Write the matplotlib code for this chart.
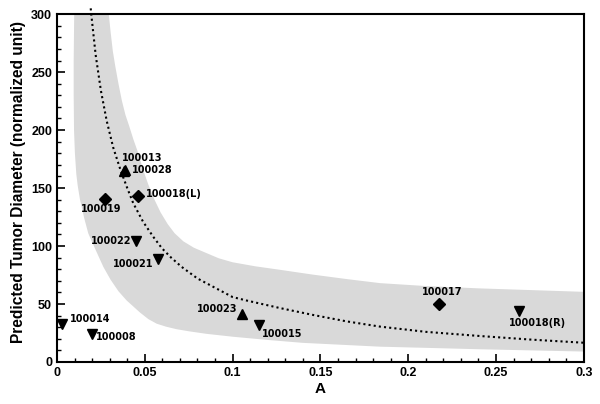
import numpy as np
import matplotlib
matplotlib.use("Agg")
import matplotlib.pyplot as plt

# shaded band edges
band_upper_a = [0.0295, 0.0305, 0.0318, 0.0332, 0.0350, 0.037, 0.039, 0.041, 0.0435, 0.0463,
                0.049, 0.052, 0.0555, 0.059, 0.063, 0.067, 0.072, 0.078, 0.085, 0.092,
                0.100, 0.113, 0.127, 0.145, 0.165, 0.184, 0.21, 0.24, 0.27, 0.30]
band_upper_v = [300, 285, 268, 255, 240, 225, 213, 204, 192, 180,
                166, 153, 140, 129, 119, 111, 104, 98.5, 94, 89.5,
                86, 82.5, 79.5, 75.5, 71.5, 68, 65.5, 63.5, 62, 60.5]
band_lower_a = [0.0098, 0.0095, 0.0095, 0.0097, 0.0102, 0.0110, 0.0118, 0.0131, 0.0155, 0.0178,
                0.0195, 0.0225, 0.0264, 0.0305, 0.0350, 0.0397, 0.0430, 0.0470, 0.052, 0.0568,
                0.062, 0.068, 0.075, 0.085, 0.100, 0.12, 0.14, 0.16, 0.184, 0.21, 0.24, 0.27, 0.30]
band_lower_v = [300, 260, 230, 200, 180, 162, 152, 140, 124, 111,
                105, 95, 82, 71, 61, 53, 48.5, 43, 37, 33,
                30.5, 28.3, 26.5, 24.3, 21.8, 19, 16.5, 15, 13.2, 12.2, 11, 10, 9]

# dotted prediction curve
curve_a = [0.0192, 0.0195, 0.022, 0.025, 0.0283, 0.032, 0.0363, 0.040, 0.0434, 0.049,
           0.0548, 0.0598, 0.065, 0.071, 0.080, 0.090, 0.100, 0.108, 0.127, 0.146,
           0.165, 0.184, 0.21, 0.2408, 0.27, 0.30]
curve_v = [305, 300, 265, 234, 208, 185, 165, 150, 137, 121,
           108, 98, 90, 82, 72, 64, 56, 53, 46.5, 40.5,
           35, 30.5, 26, 22.4, 19.3, 16.6]

# patients
names = ["100013", "100028", "100018(L)", "100019", "100022", "100021",
         "100014", "100008", "100023", "100015", "100017", "100018(R)"]
pa = [0.0381, 0.0385, 0.0463, 0.0273, 0.045, 0.0577, 0.003, 0.0197, 0.1055, 0.115, 0.2176, 0.263]
pv = [165, 165.5, 143, 140.5, 104.6, 88.5, 33, 24, 41, 32, 50, 44.2]
markers = ["^", "^", "D", "D", "v", "v", "v", "v", "^", "v", "D", "v"]
# label offsets in pixels and alignment
offsets = [(-2, 13, "left"), (7, 0, "left"), (8, 2, "left"), (-4, -10, "center"),
           (-5, 0, "right"), (-5, -5, "right"), (8, 5, "left"), (4, -3, "left"),
           (-5, 5, "right"), (3, -9, "left"), (3, 12, "center"), (19, -12, "center")]

fig = plt.figure(figsize=(6.0, 4.04), dpi=100)
ax = fig.add_axes([0.095, 0.104, 0.878, 0.861])

poly_a = band_upper_a + band_lower_a[::-1]
poly_v = band_upper_v + band_lower_v[::-1]
ax.fill(poly_a, poly_v, color="#d9d9d9", lw=0, zorder=1)

ax.plot(curve_a, curve_v, color="black", lw=1.5, linestyle=(0, (1, 1.5)),
        clip_on=False, zorder=2)

for i in range(len(names)):
    ms = 6 if markers[i] == "D" else 7
    ax.plot(pa[i], pv[i], marker=markers[i], color="black", ms=ms, ls="none",
            clip_on=False, zorder=3)
    dx, dy, ha = offsets[i]
    ax.annotate(names[i], (pa[i], pv[i]), xytext=(dx, dy), textcoords="offset pixels",
                ha=ha, va="center", fontsize=7, fontweight="bold",
                family="DejaVu Sans", zorder=4)

ax.set_xlim(0, 0.3)
ax.set_ylim(0, 300)
ax.set_xticks([0, 0.05, 0.1, 0.15, 0.2, 0.25, 0.3])
ax.set_xticklabels(["0", "0.05", "0.1", "0.15", "0.2", "0.25", "0.3"])
ax.set_yticks([0, 50, 100, 150, 200, 250, 300])
ax.set_xticks(np.arange(0, 0.3001, 0.01), minor=True)
ax.set_yticks(np.arange(0, 301, 10), minor=True)
ax.tick_params(which="both", direction="in", top=False, right=False)
ax.tick_params(which="major", length=6, width=1.2, labelsize=9)
ax.tick_params(which="minor", length=3, width=1)
for lab in ax.get_xticklabels() + ax.get_yticklabels():
    lab.set_fontweight("bold")
    lab.set_family("Liberation Sans")
for s in ax.spines.values():
    s.set_linewidth(1.5)

ax.set_xlabel("A", fontsize=11, fontweight="bold", family="Liberation Sans", labelpad=2)
ax.set_ylabel("Predicted Tumor Diameter (normalized unit)", fontsize=11.2,
              fontweight="bold", family="Liberation Sans", va="center")
ax.yaxis.set_label_coords(-0.074, 0.517)

fig.savefig("out.png", dpi=100)
